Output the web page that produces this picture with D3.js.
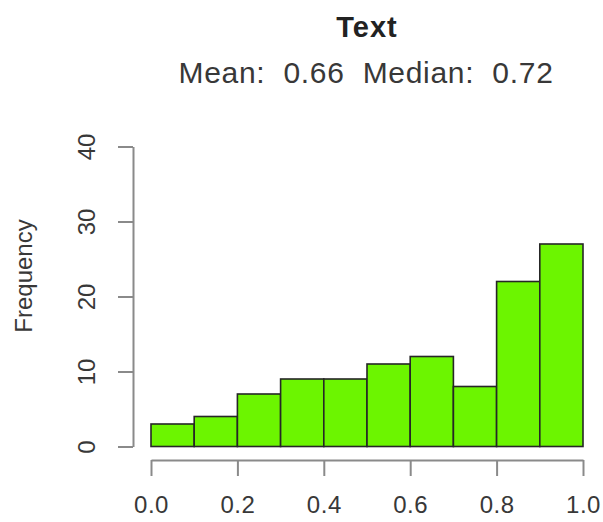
<!DOCTYPE html>
<html>
<head>
<meta charset="utf-8">
<script src="https://cdn.jsdelivr.net/npm/d3@7"></script>
<style>
  body { margin: 0; background: #fff; }
  svg { display: block; font-family: "Liberation Sans", Arial, sans-serif; }
</style>
</head>
<body>
<script>
// histogram data
var binEdges = [0.0, 0.1, 0.2, 0.3, 0.4, 0.5, 0.6, 0.7, 0.8, 0.9, 1.0];
var counts = [3, 4, 7, 9, 9, 11, 12, 8, 22, 27];
var xTicks = [0.0, 0.2, 0.4, 0.6, 0.8, 1.0];
var yTicks = [0, 10, 20, 30, 40];
var titleText = "Text";
var subText = "Mean:  0.66  Median:  0.72";

var width = 603, height = 522;
var fill = "#6cf500";

var bins = counts.map(function(c, i) {
    return {x0: binEdges[i], x1: binEdges[i + 1], count: c};
});

var x = d3.scaleLinear().domain([0, 1]).range([151, 583]);
var y = d3.scaleLinear().domain([0, 40]).range([446.5, 146.5]);

var svg = d3.select("body").append("svg")
    .attr("width", width)
    .attr("height", height);

// bars
svg.append("g")
    .selectAll("rect")
    .data(bins)
    .enter()
    .append("rect")
    .attr("x", d => x(d.x0))
    .attr("y", d => y(d.count))
    .attr("width", d => x(d.x1) - x(d.x0))
    .attr("height", d => y(0) - y(d.count))
    .attr("fill", fill)
    .attr("stroke", "#262626")
    .attr("stroke-width", 1.6);

// x axis
var xAxis = svg.append("g")
    .attr("transform", "translate(0,460)")
    .call(d3.axisBottom(x).tickValues(xTicks).tickFormat(d3.format(".1f")).tickSize(16).tickSizeOuter(0).tickPadding(20));
xAxis.select(".domain").attr("stroke", "#8a8a8a").attr("stroke-width", 2);
xAxis.selectAll(".tick line").attr("stroke", "#8a8a8a").attr("stroke-width", 2);
xAxis.selectAll(".tick text")
    .attr("font-size", 24)
    .attr("font-family", "Liberation Sans, Arial, sans-serif")
    .attr("letter-spacing", 0.5)
    .attr("fill", "#383838");

// y axis
var yAxis = svg.append("g")
    .attr("transform", "translate(133,0)")
    .call(d3.axisLeft(y).tickValues(yTicks).tickSize(15).tickSizeOuter(0).tickPadding(0));
yAxis.select(".domain").attr("stroke", "#8a8a8a").attr("stroke-width", 2);
yAxis.selectAll(".tick line").attr("stroke", "#8a8a8a").attr("stroke-width", 2);
yAxis.selectAll(".tick text")
    .attr("font-size", 24)
    .attr("font-family", "Liberation Sans, Arial, sans-serif")
    .attr("fill", "#383838")
    .attr("x", null)
    .attr("dy", null)
    .attr("text-anchor", "middle")
    .attr("transform", "translate(-47,0) rotate(-90)")
    .attr("dominant-baseline", "central");

// y label
svg.append("text")
    .attr("transform", "translate(23,276) rotate(-90)")
    .attr("text-anchor", "middle")
    .attr("dominant-baseline", "central")
    .attr("font-size", 24)
    .attr("fill", "#383838")
    .text("Frequency");

// titles
svg.append("text")
    .attr("x", 367)
    .attr("y", 37)
    .attr("text-anchor", "middle")
    .attr("font-size", 29)
    .attr("font-weight", "bold")
    .attr("letter-spacing", 1)
    .attr("fill", "#222")
    .text(titleText);

svg.append("text")
    .attr("x", 366)
    .attr("y", 83)
    .attr("text-anchor", "middle")
    .attr("font-size", 30)
    .attr("letter-spacing", 0.7)
    .attr("fill", "#383838")
    .style("white-space", "pre")
    .text(subText);
</script>
</body>
</html>
